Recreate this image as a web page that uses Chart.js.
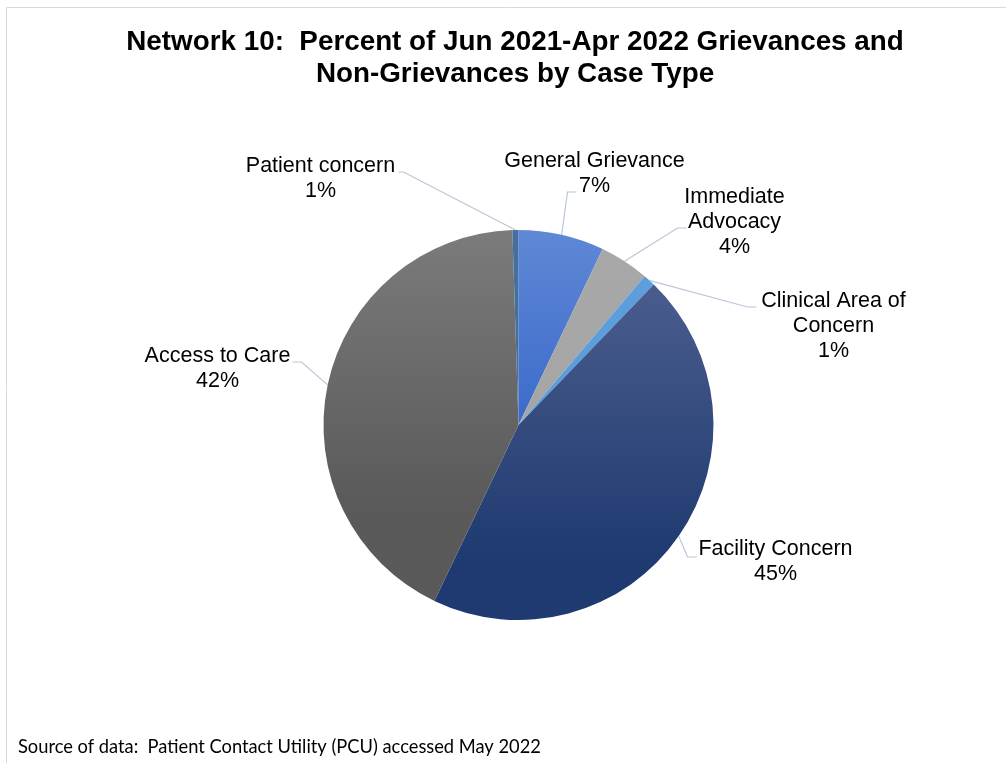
<!DOCTYPE html>
<html>
<head>
<meta charset="utf-8">
<title>Network 10: Percent of Jun 2021-Apr 2022 Grievances and Non-Grievances by Case Type</title>
<script src="https://cdn.jsdelivr.net/npm/chart.js@4/dist/chart.umd.min.js"></script>
<style>
  html, body { margin: 0; padding: 0; background: #ffffff; }
  canvas { display: block; }
</style>
</head>
<body>
<canvas id="c" width="1007" height="763"></canvas>
<script>
// ---- data ----
const categories = ["General Grievance", "Immediate Advocacy", "Clinical Area of Concern", "Facility Concern", "Access to Care", "Patient concern"];
const percentValues = [7.1, 4.1, 1.0, 44.9, 42.4, 0.5];
const titleLines = ["Network 10:  Percent of Jun 2021-Apr 2022 Grievances and", "Non-Grievances by Case Type"];
const sourceNote = "Source of data:  Patient Contact Utility (PCU) accessed May 2022";
const labelLines = [["General Grievance"], ["Immediate", "Advocacy"], ["Clinical Area of", "Concern"], ["Facility Concern"], ["Access to Care"], ["Patient concern"]];

// ---- styles / layout (relative to pie centre) ----
const sliceFill = [
  {stops: [[0, "#5F88D5"], [0.5, "#3B6ACB"], [1, "#3B6ACB"]]},
  {stops: [[0, "#A8A8A8"], [1, "#A3A3A3"]]},
  {stops: [[0, "#5D9EDC"], [1, "#5A9AD8"]]},
  {stops: [[0, "#55669A"], [0.15, "#4A5C8D"], [0.85, "#1E3A70"], [1, "#1E3A70"]]},
  {stops: [[0, "#7B7B7B"], [0.7, "#5A5A5A"], [1, "#595959"]]},
  {stops: [[0, "#44709F"], [1, "#44709F"]]}
];
// text centre x, first baseline y, leader end point, elbow point (offsets from pie centre)
const labelLayout = [
  {tx: 76, ty: -258, end: [58, -233], elbow: [49, -233]},
  {tx: 216, ty: -222, end: [168, -197], elbow: [159, -197]},
  {tx: 315, ty: -118, end: [238, -118], elbow: [229, -118]},
  {tx: 257, ty: 130, end: [178, 132], elbow: [169, 132]},
  {tx: -301, ty: -63, end: [-226, -63], elbow: [-217, -63]},
  {tx: -198, ty: -253, end: [-120, -253], elbow: [-115, -253]}
];

function sliceGradient(context) {
  const chart = context.chart;
  const area = chart.chartArea;
  const spec = sliceFill[context.dataIndex];
  if (!area) return spec.stops[0][1];
  const g = chart.ctx.createLinearGradient(0, area.top, 0, area.bottom);
  spec.stops.forEach(s => g.addColorStop(s[0], s[1]));
  return g;
}

const decorPlugin = {
  id: 'decor',
  beforeDraw(chart) {
    const ctx = chart.ctx;
    ctx.save();
    ctx.fillStyle = '#ffffff';
    ctx.fillRect(0, 0, chart.width, chart.height);
    ctx.strokeStyle = '#D9D9D9';
    ctx.lineWidth = 1;
    ctx.beginPath();
    ctx.moveTo(6.5, chart.height);
    ctx.lineTo(6.5, 7.5);
    ctx.lineTo(1006, 7.5);
    ctx.stroke();
    ctx.restore();
  },
  afterDraw(chart) {
    const ctx = chart.ctx;
    const meta = chart.getDatasetMeta(0);
    const arc0 = meta.data[0];
    const cx = arc0.x, cy = arc0.y;
    ctx.save();
    // title
    ctx.fillStyle = '#000000';
    ctx.textAlign = 'center';
    ctx.textBaseline = 'alphabetic';
    ctx.font = 'bold 27px "Liberation Sans", Arial, sans-serif';
    titleLines.forEach((t, i) => {
      ctx.save();
      ctx.translate(515, 50 + i * 32);
      ctx.scale(1.03, 1);
      ctx.fillText(t, 0, 0);
      ctx.restore();
    });
    // leader lines + labels
    const data = chart.data.datasets[0].data;
    meta.data.forEach((arc, i) => {
      const mid = (arc.startAngle + arc.endAngle) / 2;
      const ex = arc.x + Math.cos(mid) * arc.outerRadius;
      const ey = arc.y + Math.sin(mid) * arc.outerRadius;
      const L = labelLayout[i];
      ctx.strokeStyle = '#B9C6D8';
      ctx.lineWidth = 1.2;
      ctx.beginPath();
      ctx.moveTo(ex, ey);
      ctx.lineTo(cx + L.elbow[0], cy + L.elbow[1]);
      ctx.lineTo(cx + L.end[0], cy + L.end[1]);
      ctx.stroke();
      ctx.fillStyle = '#000000';
      ctx.font = '21.5px "Liberation Sans", Arial, sans-serif';
      ctx.textAlign = 'center';
      const lines = labelLines[i].concat([Math.round(data[i]) + '%']);
      lines.forEach((t, k) => ctx.fillText(t, cx + L.tx, cy + L.ty + k * 25));
    });
    // source note
    ctx.textAlign = 'left';
    ctx.font = '18.3px Lato, "Open Sans", sans-serif';
    ctx.fillStyle = '#000000';
    ctx.fillText(sourceNote, 18, 753);
    ctx.restore();
  }
};

new Chart(document.getElementById('c'), {
  type: 'pie',
  data: {
    labels: categories,
    datasets: [{
      data: percentValues,
      backgroundColor: sliceGradient,
      borderWidth: 0,
      hoverOffset: 0
    }]
  },
  options: {
    responsive: false,
    animation: false,
    devicePixelRatio: 1,
    layout: { padding: { top: 230, bottom: 143, left: 323.5, right: 293.5 } },
    plugins: {
      legend: { display: false },
      title: { display: false },
      tooltip: { enabled: false }
    }
  },
  plugins: [decorPlugin]
});
</script>
</body>
</html>
